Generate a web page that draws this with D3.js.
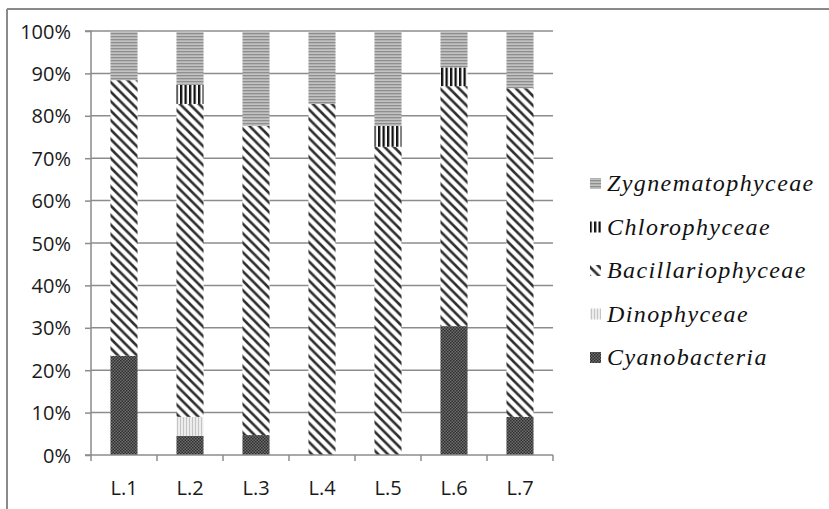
<!DOCTYPE html>
<html><head><meta charset="utf-8">
<script src="https://cdn.jsdelivr.net/npm/d3@7"></script>
<style>
html,body{margin:0;padding:0;background:#fff;}
svg{display:block;}
</style>
</head><body>
<script>
const categories = ["L.1","L.2","L.3","L.4","L.5","L.6","L.7"];
const cyanobacteria     = [23.4, 4.5, 4.7, 0, 0, 30.4, 9.0];
const dinophyceae       = [0, 4.5, 0, 0, 0, 0, 0];
const bacillariophyceae = [65.0, 73.8, 72.9, 82.8, 72.7, 56.6, 77.5];
const chlorophyceae     = [0, 4.5, 0, 0, 4.9, 4.4, 0];
const zygnematophyceae  = [11.6, 12.7, 22.4, 17.2, 22.4, 8.6, 13.5];
const seriesNames = ["Cyanobacteria","Dinophyceae","Bacillariophyceae","Chlorophyceae","Zygnematophyceae"];
const yTicks = [0,10,20,30,40,50,60,70,80,90,100];

const W = 829, H = 509;
const svg = d3.select("body").append("svg").attr("width", W).attr("height", H);
const defs = svg.append("defs");

function pat(id, w, h, draw) {
  const p = defs.append("pattern").attr("id", id).attr("patternUnits","userSpaceOnUse")
    .attr("width", w).attr("height", h);
  draw(p);
}
pat("p-cyano", 3, 3, p => {
  p.append("rect").attr("width",3).attr("height",3).attr("fill","#6e6e6e");
  p.append("rect").attr("width",1.5).attr("height",1.5).attr("fill","#2e2e2e");
  p.append("rect").attr("x",1.5).attr("y",1.5).attr("width",1.5).attr("height",1.5).attr("fill","#2e2e2e");
});
pat("p-dino", 3, 3, p => {
  p.append("rect").attr("width",3).attr("height",3).attr("fill","#ececec");
  p.append("rect").attr("width",1).attr("height",3).attr("fill","#c4c4c4");
});
pat("p-bac", 9.5, 9.5, p => {
  p.append("rect").attr("width",9.5).attr("height",9.5).attr("fill","#fff");
  p.append("path").attr("d","M-2,-2 L11.5,11.5 M-2,7.5 L2,11.5 M7.5,-2 L11.5,2")
    .attr("stroke","#2f2f2f").attr("stroke-width",2.6);
});
pat("p-chloro", 4.5, 4, p => {
  p.append("rect").attr("width",4.5).attr("height",4).attr("fill","#fff");
  p.append("rect").attr("width",2.3).attr("height",4).attr("fill","#111");
});
pat("p-zyg", 3, 3, p => {
  p.append("rect").attr("width",3).attr("height",3).attr("fill","#c2c2c2");
  p.append("rect").attr("width",3).attr("height",1.3).attr("fill","#8e8e8e");
});
const fills = {
  "Cyanobacteria":"url(#p-cyano)",
  "Dinophyceae":"url(#p-dino)",
  "Bacillariophyceae":"url(#p-bac)",
  "Chlorophyceae":"url(#p-chloro)",
  "Zygnematophyceae":"url(#p-zyg)"
};

svg.append("line").attr("x1",7).attr("x2",W).attr("y1",9).attr("y2",9).attr("stroke","#8a8a8a").attr("stroke-width",2);
svg.append("line").attr("x1",7).attr("x2",7).attr("y1",9).attr("y2",H).attr("stroke","#8a8a8a").attr("stroke-width",2);

const x0 = 91, x1 = 553, yTop = 31, yBot = 455;
const x = d3.scaleBand().domain(categories).range([x0, x1]).paddingInner(0.59).paddingOuter(0.295);
const y = d3.scaleLinear().domain([0, 100]).range([yBot, yTop]);

svg.append("g").selectAll("line").data(yTicks.filter(t => t > 0)).join("line")
  .attr("x1", x0).attr("x2", x1).attr("y1", d => y(d)).attr("y2", d => y(d))
  .attr("stroke","#8c8c8c").attr("stroke-width",1.5);

const table = categories.map((c, i) => ({
  cat: c,
  Cyanobacteria: cyanobacteria[i],
  Dinophyceae: dinophyceae[i],
  Bacillariophyceae: bacillariophyceae[i],
  Chlorophyceae: chlorophyceae[i],
  Zygnematophyceae: zygnematophyceae[i]
}));
const stacked = d3.stack().keys(seriesNames).offset(d3.stackOffsetExpand)(table);

svg.append("g").selectAll("g").data(stacked).join("g")
  .attr("fill", d => fills[d.key])
  .selectAll("rect").data(d => d).join("rect")
  .attr("x", d => x(d.data.cat))
  .attr("width", x.bandwidth())
  .attr("y", d => y(d[1]*100))
  .attr("height", d => Math.max(0, y(d[0]*100) - y(d[1]*100)));

const axFont = '"Open Sans"';
const yAxis = d3.axisLeft(y).tickValues(yTicks).tickFormat(d => d + "%").tickSize(6).tickPadding(14);
const gy = svg.append("g").attr("transform", `translate(${x0},0)`).call(yAxis);
gy.select(".domain").attr("stroke","#8c8c8c").attr("stroke-width",1.5).attr("d", `M-6,${yTop}H0V${yBot}H-6`);
gy.selectAll(".tick line").attr("stroke","#8c8c8c").attr("stroke-width",1.5);
gy.selectAll(".tick text").style("font-family", axFont).style("font-size","20px").attr("fill","#1a1a1a").attr("dy","0.35em");

const xAxis = d3.axisBottom(x).tickSize(0).tickPadding(26);
const gx = svg.append("g").attr("transform", `translate(0,${yBot})`).call(xAxis);
gx.select(".domain").attr("stroke","#8c8c8c").attr("stroke-width",1.5).attr("d", `M${x0},0H${x1}`);
gx.selectAll(".tick text").style("font-family", axFont).style("font-size","20px").attr("fill","#1a1a1a");
const bounds = d3.range(categories.length + 1).map(i => x0 + i * x.step());
gx.append("g").selectAll("line").data(bounds).join("line")
  .attr("x1", d => d).attr("x2", d => d).attr("y1", 0).attr("y2", 6)
  .attr("stroke","#8c8c8c").attr("stroke-width",1.5);

const legendOrder = ["Zygnematophyceae","Chlorophyceae","Bacillariophyceae","Dinophyceae","Cyanobacteria"];
const lg = svg.append("g");
legendOrder.forEach((name, i) => {
  const cy = 183 + i * 43.5;
  lg.append("rect").attr("x", 590).attr("y", cy - 5).attr("width", 11).attr("height", 11).attr("fill", fills[name]);
  lg.append("text").attr("x", 607).attr("y", cy + 8)
    .style("font-family", '"Liberation Serif"').style("font-style","italic")
    .attr("font-size", 24).style("letter-spacing","1.4px").attr("fill","#111").text(name);
});
</script>
</body></html>
